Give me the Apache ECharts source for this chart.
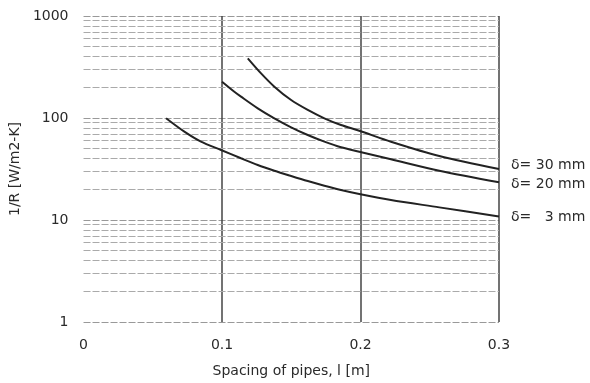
<!DOCTYPE html>
<html>
<head>
<meta charset="utf-8">
<script src="https://cdn.jsdelivr.net/npm/echarts@6/dist/echarts.min.js"></script>
<style>html,body{margin:0;padding:0;background:#fff}#c{width:590px;height:383px}</style>
</head>
<body>
<div id="c"></div>
<script>
const xTicks = [0, 0.1, 0.2, 0.3];
const yTicks = [1, 10, 100, 1000];
const minorGridValues = [2,3,4,5,6,7,8,9,20,30,40,50,60,70,80,90,200,300,400,500,600,700,800,900];
const names = ['δ= 30 mm', 'δ= 20 mm', 'δ= \u20073 mm'];
const d30 = [[0.1186,385],[0.1282,274],[0.1378,203],[0.1499,150],[0.1619,120],[0.1739,99.3],[0.1859,85.4],[0.1991,75],[0.222,58.6],[0.2569,42.4],[0.3,31.6]];
const d20 = [[0.1,227],[0.1089,181],[0.1137,162],[0.1258,124.5],[0.1378,99.3],[0.1499,81.1],[0.1619,68.1],[0.1739,58.6],[0.1859,51.6],[0.1991,46.7],[0.222,39.4],[0.2569,30.4],[0.3,23.4]];
const d3  = [[0.0596,99.3],[0.0728,73.4],[0.0848,58.6],[0.0993,48.6],[0.1137,40.3],[0.1258,34.6],[0.1378,30.4],[0.1499,27],[0.1619,24.1],[0.1739,21.7],[0.1859,19.7],[0.1991,18],[0.222,15.7],[0.2569,13.3],[0.3,10.8]];

const FONT = 'DejaVu Sans';
const TXT = '#2a2a2a';
const chart = echarts.init(document.getElementById('c'), null, {renderer: 'canvas'});

function curve(name, data, off) {
  return {
    name, type: 'line', data, smooth: 0.3, symbol: 'none',
    lineStyle: {color: '#222', width: 2},
    endLabel: {show: true, formatter: name, distance: 12, offset: [0, off],
      color: TXT, fontFamily: FONT, fontSize: 14},
    z: 5
  };
}

chart.setOption({
  animation: false,
  grid: {left: 81, right: 91, top: 16, bottom: 61},
  xAxis: {
    type: 'value', min: 0, max: 0.3, interval: 0.1,
    name: 'Spacing of pipes, l [m]', nameLocation: 'middle', nameGap: 42,
    nameTextStyle: {color: TXT, fontFamily: FONT, fontSize: 14},
    axisLine: {show: false}, axisTick: {show: false},
    axisLabel: {color: TXT, fontFamily: FONT, fontSize: 14, margin: 16,
      formatter: v => xTicks.includes(+v.toFixed(2)) ? String(+v.toFixed(2)) : ''},
    splitLine: {show: true, showMinLine: false, lineStyle: {color: '#444', width: 1.5}}
  },
  yAxis: {
    type: 'log', logBase: 10, min: 1, max: 1000,
    name: '1/R [W/m2-K]', nameLocation: 'middle', nameGap: 58, nameRotate: 90,
    nameTextStyle: {color: TXT, fontFamily: FONT, fontSize: 14},
    axisLine: {show: false}, axisTick: {show: false},
    axisLabel: {color: TXT, fontFamily: FONT, fontSize: 14, margin: 15,
      formatter: v => yTicks.includes(Math.round(v)) ? String(Math.round(v)) : ''},
    splitLine: {show: true, lineStyle: {color: '#999', width: 1, type: [7, 2]}}
  },
  series: [
    curve(names[0], d30, -4),
    curve(names[1], d20, 2),
    curve(names[2], d3, 1),
    {
      type: 'line', data: [], silent: true,
      markLine: {
        silent: true, symbol: 'none', animation: false,
        label: {show: false},
        lineStyle: {color: '#aaa', width: 1, type: [7, 2]},
        data: minorGridValues.map(v => ({yAxis: v}))
      }
    }
  ]
});
</script>
</body>
</html>
